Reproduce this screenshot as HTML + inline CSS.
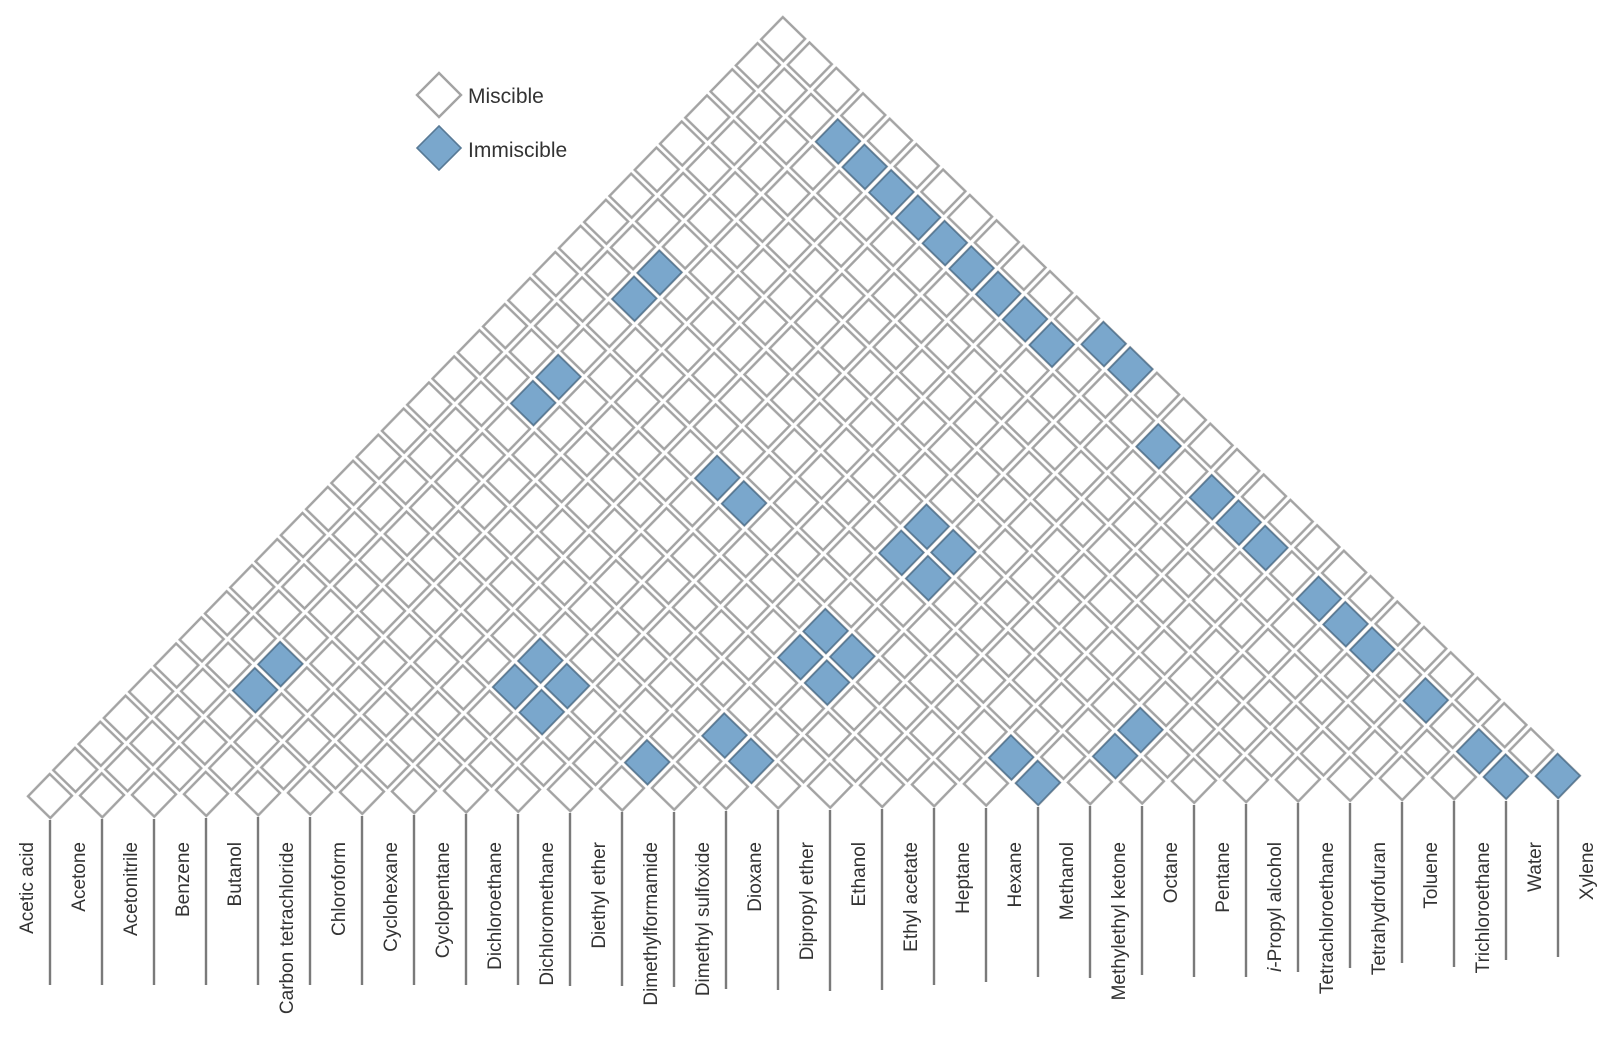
<!DOCTYPE html>
<html><head><meta charset="utf-8"><style>
html,body{margin:0;padding:0;background:#fff}
svg{display:block}
text{font-family:"Liberation Sans",sans-serif}
</style></head><body>
<svg width="1600" height="1060" viewBox="0 0 1600 1060" xmlns="http://www.w3.org/2000/svg">
<defs>
<pattern id="p" patternUnits="userSpaceOnUse" x="-26" y="-26" width="52" height="52">
<polygon points="26,4 48,26 26,48 4,26" fill="#fff" stroke="#a3a3a3" stroke-width="2.4"/>
</pattern>
<polygon id="f" points="0,-22 22,0 0,22 -22,0" fill="#7aa7cc" stroke="#587a96" stroke-width="1.6"/>
</defs>
<rect width="1600" height="1060" fill="#fff"/>

<g transform="translate(50,796) rotate(-0.76)"><rect x="-26" y="-26" width="1560" height="52" fill="url(#p)"/><use href="#f" x="1456"/><use href="#f" x="1508"/><use href="#f" x="988"/></g>
<g transform="translate(75.28,769.9) rotate(-0.76)"><rect x="-26" y="-26" width="1508" height="52" fill="url(#p)"/><use href="#f" x="1404"/><use href="#f" x="936"/><use href="#f" x="1040"/><use href="#f" x="572"/><use href="#f" x="676"/></g>
<g transform="translate(100.56,743.8) rotate(-0.76)"><rect x="-26" y="-26" width="1456" height="52" fill="url(#p)"/><use href="#f" x="1040"/><use href="#f" x="624"/></g>
<g transform="translate(125.84,717.7) rotate(-0.76)"><rect x="-26" y="-26" width="1404" height="52" fill="url(#p)"/><use href="#f" x="1300"/><use href="#f" x="416"/></g>
<g transform="translate(151.12,691.6) rotate(-0.76)"><rect x="-26" y="-26" width="1352" height="52" fill="url(#p)"/><use href="#f" x="676"/><use href="#f" x="104"/><use href="#f" x="364"/><use href="#f" x="416"/></g>
<g transform="translate(176.4,665.5) rotate(-0.76)"><rect x="-26" y="-26" width="1300" height="52" fill="url(#p)"/><use href="#f" x="1196"/><use href="#f" x="624"/><use href="#f" x="676"/><use href="#f" x="104"/><use href="#f" x="364"/></g>
<g transform="translate(201.68,639.4) rotate(-0.76)"><rect x="-26" y="-26" width="1248" height="52" fill="url(#p)"/><use href="#f" x="1144"/><use href="#f" x="624"/></g>
<g transform="translate(226.96,613.3) rotate(-0.76)"><rect x="-26" y="-26" width="1196" height="52" fill="url(#p)"/><use href="#f" x="1092"/></g>
<g transform="translate(252.24,587.2) rotate(-0.76)"><rect x="-26" y="-26" width="1144" height="52" fill="url(#p)"/><use href="#f" x="676"/></g>
<g transform="translate(277.52,561.1) rotate(-0.76)"><rect x="-26" y="-26" width="1092" height="52" fill="url(#p)"/><use href="#f" x="988"/><use href="#f" x="624"/><use href="#f" x="676"/></g>
<g transform="translate(302.8,535) rotate(-0.76)"><rect x="-26" y="-26" width="1040" height="52" fill="url(#p)"/><use href="#f" x="936"/><use href="#f" x="624"/></g>
<g transform="translate(328.08,508.9) rotate(-0.76)"><rect x="-26" y="-26" width="988" height="52" fill="url(#p)"/><use href="#f" x="884"/><use href="#f" x="416"/></g>
<g transform="translate(353.36,482.8) rotate(-0.76)"><rect x="-26" y="-26" width="936" height="52" fill="url(#p)"/><use href="#f" x="364"/></g>
<g transform="translate(378.64,456.7) rotate(-0.76)"><rect x="-26" y="-26" width="884" height="52" fill="url(#p)"/><use href="#f" x="780"/></g>
<g transform="translate(403.92,430.6) rotate(-0.76)"><rect x="-26" y="-26" width="832" height="52" fill="url(#p)"/></g>
<g transform="translate(429.2,404.5) rotate(-0.76)"><rect x="-26" y="-26" width="780" height="52" fill="url(#p)"/><use href="#f" x="104"/></g>
<g transform="translate(454.48,378.4) rotate(-0.76)"><rect x="-26" y="-26" width="728" height="52" fill="url(#p)"/><use href="#f" x="676"/><use href="#f" x="104"/></g>
<g transform="translate(479.76,352.3) rotate(-0.76)"><rect x="-26" y="-26" width="676" height="52" fill="url(#p)"/><use href="#f" x="572"/><use href="#f" x="624"/></g>
<g transform="translate(505.04,326.2) rotate(-0.76)"><rect x="-26" y="-26" width="624" height="52" fill="url(#p)"/><use href="#f" x="520"/></g>
<g transform="translate(530.32,300.1) rotate(-0.76)"><rect x="-26" y="-26" width="572" height="52" fill="url(#p)"/><use href="#f" x="468"/><use href="#f" x="104"/></g>
<g transform="translate(555.6,274) rotate(-0.76)"><rect x="-26" y="-26" width="520" height="52" fill="url(#p)"/><use href="#f" x="416"/><use href="#f" x="104"/></g>
<g transform="translate(580.88,247.9) rotate(-0.76)"><rect x="-26" y="-26" width="468" height="52" fill="url(#p)"/><use href="#f" x="364"/></g>
<g transform="translate(606.16,221.8) rotate(-0.76)"><rect x="-26" y="-26" width="416" height="52" fill="url(#p)"/><use href="#f" x="312"/></g>
<g transform="translate(631.44,195.7) rotate(-0.76)"><rect x="-26" y="-26" width="364" height="52" fill="url(#p)"/><use href="#f" x="260"/></g>
<g transform="translate(656.72,169.6) rotate(-0.76)"><rect x="-26" y="-26" width="312" height="52" fill="url(#p)"/><use href="#f" x="208"/></g>
<g transform="translate(682,143.5) rotate(-0.76)"><rect x="-26" y="-26" width="260" height="52" fill="url(#p)"/><use href="#f" x="156"/></g>
<g transform="translate(707.28,117.4) rotate(-0.76)"><rect x="-26" y="-26" width="208" height="52" fill="url(#p)"/></g>
<g transform="translate(732.56,91.3) rotate(-0.76)"><rect x="-26" y="-26" width="156" height="52" fill="url(#p)"/></g>
<g transform="translate(757.84,65.2) rotate(-0.76)"><rect x="-26" y="-26" width="104" height="52" fill="url(#p)"/></g>
<g transform="translate(783.12,39.1) rotate(-0.76)"><rect x="-26" y="-26" width="52" height="52" fill="url(#p)"/></g>

<!-- connector lines -->
<g stroke="#7a7a7a" stroke-width="2.4">
<line x1="50" y1="820" x2="50" y2="985"/>
<line x1="102" y1="819" x2="102" y2="985"/>
<line x1="154" y1="819" x2="154" y2="985"/>
<line x1="206" y1="818" x2="206" y2="985"/>
<line x1="258" y1="817" x2="258" y2="985"/>
<line x1="310" y1="817" x2="310" y2="985"/>
<line x1="362" y1="816" x2="362" y2="985"/>
<line x1="414" y1="815" x2="414" y2="985"/>
<line x1="466" y1="814" x2="466" y2="985"/>
<line x1="518" y1="814" x2="518" y2="985"/>
<line x1="570" y1="813" x2="570" y2="986"/>
<line x1="622" y1="812" x2="622" y2="986"/>
<line x1="674" y1="812" x2="674" y2="987"/>
<line x1="726" y1="811" x2="726" y2="989"/>
<line x1="778" y1="810" x2="778" y2="990"/>
<line x1="830" y1="810" x2="830" y2="991"/>
<line x1="882" y1="809" x2="882" y2="990"/>
<line x1="934" y1="808" x2="934" y2="985"/>
<line x1="986" y1="808" x2="986" y2="982"/>
<line x1="1038" y1="807" x2="1038" y2="977"/>
<line x1="1090" y1="806" x2="1090" y2="978"/>
<line x1="1142" y1="806" x2="1142" y2="975"/>
<line x1="1194" y1="805" x2="1194" y2="977"/>
<line x1="1246" y1="804" x2="1246" y2="977"/>
<line x1="1298" y1="803" x2="1298" y2="972"/>
<line x1="1350" y1="803" x2="1350" y2="968"/>
<line x1="1402" y1="802" x2="1402" y2="963"/>
<line x1="1454" y1="801" x2="1454" y2="967"/>
<line x1="1506" y1="801" x2="1506" y2="960"/>
<line x1="1558" y1="800" x2="1558" y2="957"/>
</g>

<!-- labels -->
<g font-size="19" fill="#333" text-anchor="end">
<text transform="translate(33,842) rotate(-90)">Acetic acid</text>
<text transform="translate(85,842) rotate(-90)">Acetone</text>
<text transform="translate(137,842) rotate(-90)">Acetonitrile</text>
<text transform="translate(189,842) rotate(-90)">Benzene</text>
<text transform="translate(241,842) rotate(-90)">Butanol</text>
<text transform="translate(293,842) rotate(-90)">Carbon tetrachloride</text>
<text transform="translate(345,842) rotate(-90)">Chloroform</text>
<text transform="translate(397,842) rotate(-90)">Cyclohexane</text>
<text transform="translate(449,842) rotate(-90)">Cyclopentane</text>
<text transform="translate(501,842) rotate(-90)">Dichloroethane</text>
<text transform="translate(553,842) rotate(-90)">Dichloromethane</text>
<text transform="translate(605,842) rotate(-90)">Diethyl ether</text>
<text transform="translate(657,842) rotate(-90)">Dimethylformamide</text>
<text transform="translate(709,842) rotate(-90)">Dimethyl sulfoxide</text>
<text transform="translate(761,842) rotate(-90)">Dioxane</text>
<text transform="translate(813,842) rotate(-90)">Dipropyl ether</text>
<text transform="translate(865,842) rotate(-90)">Ethanol</text>
<text transform="translate(917,842) rotate(-90)">Ethyl acetate</text>
<text transform="translate(969,842) rotate(-90)">Heptane</text>
<text transform="translate(1021,842) rotate(-90)">Hexane</text>
<text transform="translate(1073,842) rotate(-90)">Methanol</text>
<text transform="translate(1125,842) rotate(-90)">Methylethyl ketone</text>
<text transform="translate(1177,842) rotate(-90)">Octane</text>
<text transform="translate(1229,842) rotate(-90)">Pentane</text>
<text transform="translate(1281,842) rotate(-90)"><tspan font-style="italic">i</tspan>-Propyl alcohol</text>
<text transform="translate(1333,842) rotate(-90)">Tetrachloroethane</text>
<text transform="translate(1385,842) rotate(-90)">Tetrahydrofuran</text>
<text transform="translate(1437,842) rotate(-90)">Toluene</text>
<text transform="translate(1489,842) rotate(-90)">Trichloroethane</text>
<text transform="translate(1541,842) rotate(-90)">Water</text>
<text transform="translate(1593,842) rotate(-90)">Xylene</text>
</g>

<!-- legend -->
<polygon points="439,73 461,95 439,117 417,95" fill="#fff" stroke="#a3a3a3" stroke-width="2.4"/>
<polygon points="439,126 461,148 439,170 417,148" fill="#7aa7cc" stroke="#587a96" stroke-width="1.6"/>
<text x="468" y="103" font-size="21" fill="#333">Miscible</text>
<text x="468" y="157" font-size="21" fill="#333">Immiscible</text>
</svg>
</body></html>
